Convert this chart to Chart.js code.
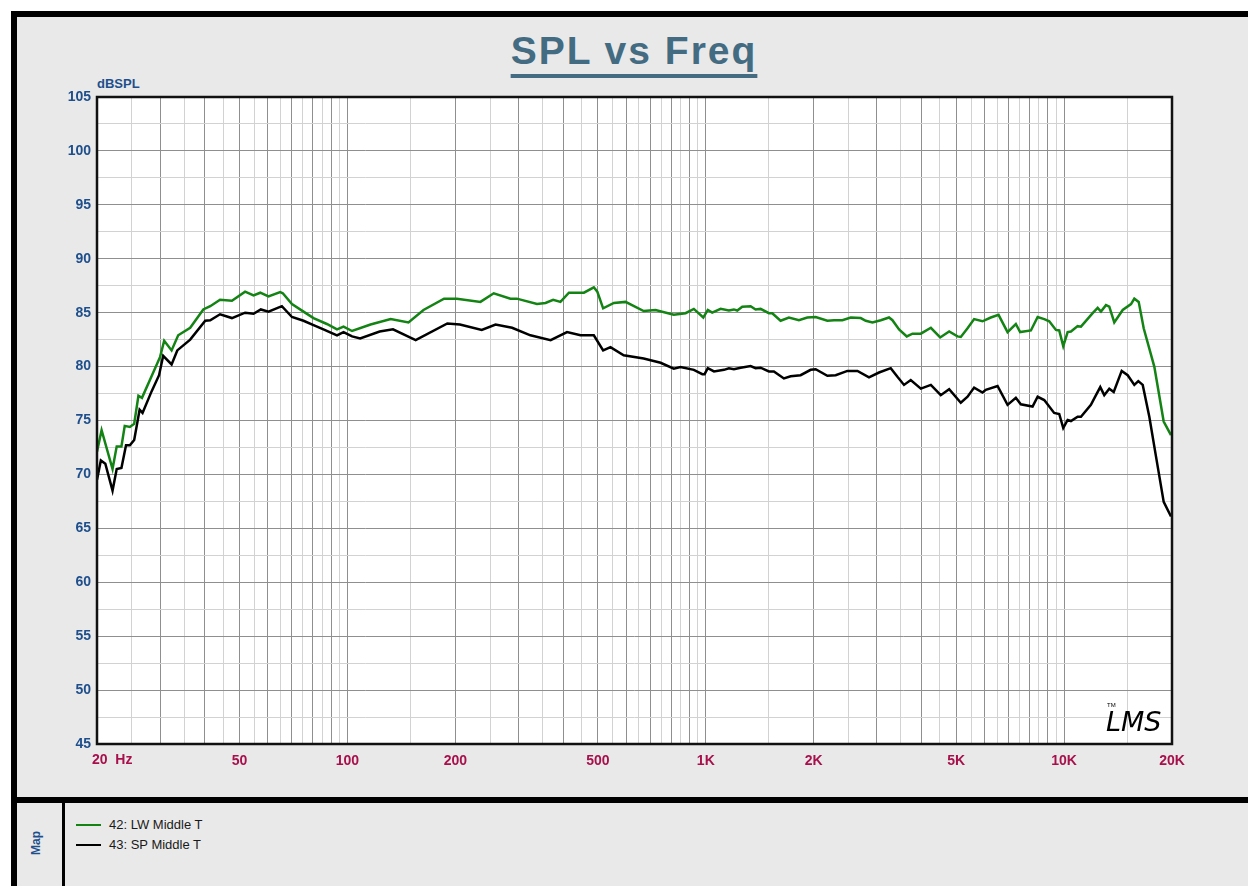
<!DOCTYPE html>
<html>
<head>
<meta charset="utf-8">
<title>SPL vs Freq</title>
<script src="https://cdn.jsdelivr.net/npm/chart.js@4.4.1/dist/chart.umd.min.js"></script>
<style>
  html, body { margin: 0; padding: 0; background: #fff; }
  body { width: 1248px; height: 886px; position: relative; overflow: hidden; font-family: "Liberation Sans", Arial, sans-serif; }
  .frame { position: absolute; left: 11px; top: 11px; right: 0; bottom: 0; background: #e9e9e9; border-left: 6px solid #000; border-top: 6px solid #000; }
  .hsplit { position: absolute; left: 11px; right: 0; top: 797px; height: 6px; background: #000; }
  .vsplit { position: absolute; left: 62px; top: 803px; width: 3px; bottom: 0; background: #000; }
  .title { position: absolute; left: 0; width: 1268px; top: 29px; text-align: center; font: bold 39px "Liberation Sans", Arial, sans-serif; letter-spacing: 2px; color: #436b82; text-decoration: underline; text-decoration-thickness: 4px; text-underline-offset: 10px; }
  .unit { position: absolute; left: 97px; top: 76px; font: bold 13px "Liberation Sans", Arial, sans-serif; color: #1e4f8c; }
  .map { position: absolute; left: 24px; top: 836px; font: bold 12px "Liberation Sans", Arial, sans-serif; color: #1e4f8c; transform: rotate(-90deg); transform-origin: center; }
  .legend { position: absolute; left: 76px; top: 815px; font: 13px "Liberation Sans", Arial, sans-serif; color: #1a1a1a; }
  .legend div { height: 20px; line-height: 16px; display: flex; align-items: center; }
  .legend span.sw { display: inline-block; width: 25px; height: 2px; margin-right: 8px; }
  canvas { position: absolute; left: 0; top: 0; }
</style>
</head>
<body>
<div class="frame"></div>
<div class="hsplit"></div>
<div class="vsplit"></div>
<div class="title">SPL vs Freq</div>
<div class="unit">dBSPL</div>
<div class="map">Map</div>
<div class="legend">
  <div><span class="sw" style="background:#138313"></span>42: LW Middle T</div>
  <div><span class="sw" style="background:#000"></span>43: SP Middle T</div>
</div>
<canvas id="splChart" width="1248" height="886"></canvas>
<script>
// Curve 42: LW Middle T (green)
const lwFreq = [20, 20.6, 22.1, 22.7, 23.4, 23.9, 24.7, 25.4, 26.1, 26.7, 28.4, 30, 30.8, 32.3, 33.7, 36.4, 39.6, 41.4, 44.1, 47.6,
  51.8, 54.7, 57.1, 60.2, 64.9, 66, 70, 75.4, 80.4, 87.6, 93.5, 97.5, 103, 116, 132, 148, 163, 186, 202, 235,
  256, 285, 297, 338, 357, 375, 393, 415, 457, 487, 498, 517, 554, 597, 671, 724, 814, 878, 926, 984,
  1013, 1042, 1100, 1160, 1198, 1224, 1264, 1334, 1377, 1422, 1500, 1533, 1617, 1706, 1819, 1920, 2026, 2184, 2280, 2405,
  2538, 2706, 2795, 2918, 3079, 3246, 3318, 3462, 3638, 3774, 3982, 4247, 4509, 4777, 5039, 5148, 5376, 5608, 5918, 6244,
  6561, 6952, 7332, 7538, 8077, 8435, 8800, 9088, 9487, 9690, 9943, 10228, 10448, 10908, 11142, 12012, 12406, 12670, 13084, 13366,
  13802, 14570, 15370, 15700, 16148, 16674, 17850, 18960, 19872];
const lwSpl = [72.1, 74.1, 70.5, 72.6, 72.6, 74.5, 74.4, 74.7, 77.3, 77.1, 79.1, 80.9, 82.4, 81.5, 82.9, 83.6, 85.3, 85.6, 86.2, 86.1,
  86.95, 86.6, 86.85, 86.5, 86.9, 86.8, 85.8, 85.1, 84.5, 83.95, 83.45, 83.7, 83.3, 83.9, 84.4, 84.1, 85.25, 86.3, 86.3, 86.0,
  86.8, 86.3, 86.3, 85.8, 85.9, 86.2, 86.0, 86.85, 86.85, 87.35, 86.95, 85.4, 85.9, 86.0, 85.15, 85.25, 84.8, 84.95, 85.35, 84.55,
  85.25, 85.0, 85.35, 85.2, 85.3, 85.2, 85.55, 85.6, 85.3, 85.35, 84.95, 84.95, 84.25, 84.55, 84.3, 84.55, 84.6, 84.25, 84.3, 84.3,
  84.55, 84.5, 84.25, 84.1, 84.3, 84.55, 84.3, 83.45, 82.8, 83.05, 83.05, 83.6, 82.7, 83.25, 82.8, 82.75, 83.55, 84.4, 84.2, 84.55,
  84.8, 83.2, 83.95, 83.2, 83.35, 84.6, 84.4, 84.2, 83.4, 83.35, 81.9, 83.2, 83.25, 83.75, 83.7, 84.95, 85.45, 85.1, 85.7, 85.55,
  84.1, 85.25, 85.8, 86.3, 86.0, 83.55, 80.0, 74.9, 73.65];

// Curve 43: SP Middle T (black)
const spFreq = [20, 20.5, 21.1, 22.1, 22.7, 23.4, 24.1, 24.7, 25.4, 26.3, 26.8, 28.4, 29.8, 30.6, 32.3, 33.5, 36.4, 40.1, 41.4, 44.1,
  47.6, 51.8, 54.7, 57.3, 60.2, 65.6, 70, 75.4, 80.4, 85.7, 93.5, 97.5, 103, 108.5, 123, 134, 155, 190, 206, 237,
  259, 288, 324, 369, 410, 447, 487, 517, 542, 590, 671, 748, 814, 850, 926, 978, 992, 1013, 1054, 1124,
  1160, 1198, 1251, 1334, 1377, 1422, 1500, 1549, 1652, 1725, 1839, 1962, 2026, 2184, 2304, 2484, 2650, 2854, 3044, 3282,
  3426, 3574, 3732, 3982, 4247, 4526, 4777, 5148, 5376, 5608, 5918, 6046, 6520, 6952, 7332, 7570, 8164, 8435, 8800, 9380,
  9690, 9943, 10228, 10448, 10908, 11142, 11878, 12270, 12614, 12942, 13366, 13752, 14476, 15044, 15700, 16106, 16570, 17288, 18048, 18960,
  19872];
const spSpl = [69.5, 71.3, 71.0, 68.5, 70.5, 70.6, 72.7, 72.7, 73.2, 76.0, 75.7, 77.7, 79.2, 81.0, 80.2, 81.5, 82.5, 84.25, 84.3, 84.85,
  84.5, 85.0, 84.9, 85.3, 85.1, 85.6, 84.6, 84.25, 83.85, 83.45, 82.9, 83.2, 82.8, 82.6, 83.25, 83.45, 82.45, 84.0, 83.9, 83.4,
  83.9, 83.6, 82.9, 82.45, 83.2, 82.9, 82.9, 81.5, 81.8, 81.05, 80.75, 80.35, 79.8, 79.95, 79.7, 79.3, 79.3, 79.85, 79.55, 79.7,
  79.85, 79.75, 79.9, 80.05, 79.85, 79.9, 79.55, 79.55, 78.9, 79.1, 79.2, 79.7, 79.75, 79.15, 79.2, 79.6, 79.6, 79.0, 79.45, 79.85,
  79.05, 78.3, 78.75, 77.95, 78.3, 77.35, 77.9, 76.65, 77.2, 78.05, 77.6, 77.85, 78.2, 76.45, 77.1, 76.5, 76.3, 77.2, 76.9, 75.7,
  75.6, 74.3, 75.05, 74.95, 75.35, 75.35, 76.45, 77.35, 78.1, 77.35, 77.95, 77.65, 79.6, 79.2, 78.3, 78.65, 78.3, 75.35, 71.65, 67.45,
  66.1];

// Frequency grid lines and the ones that carry a label
const xGridFreqs = [20, 25, 30, 35, 40, 45, 50, 55, 60, 65, 70, 75, 80, 85, 90, 95,
  100, 150, 200, 250, 300, 350, 400, 450, 500, 550, 600, 650, 700, 750, 800, 850, 900, 950,
  1000, 1500, 2000, 2500, 3000, 3500, 4000, 4500, 5000, 5500, 6000, 6500, 7000, 7500, 8000, 8500, 9000, 9500,
  10000, 15000, 20000];
const xTickLabels = { 50: "50", 100: "100", 200: "200", 500: "500", 1000: "1K", 2000: "2K", 5000: "5K", 10000: "10K", 20000: "20K" };
const firstXLabel = "20  Hz";
const yMin = 45, yMax = 105, yStep = 2.5;

const DARK_GRID = "#8f8f8f";
const LIGHT_GRID = "#d2d2d2";
const X_LABEL_COLOR = "#a8104c";

function isMajorFreq(v) {
  const m = v / Math.pow(10, Math.floor(Math.log10(v) + 1e-9));
  return Math.abs(m - Math.round(m)) < 1e-6;
}

const plotDecor = {
  id: "plotDecor",
  beforeDraw(chart) {
    const { ctx, chartArea: a } = chart;
    ctx.save();
    ctx.fillStyle = "#fff";
    ctx.fillRect(a.left, a.top, a.right - a.left, a.bottom - a.top);
    ctx.restore();
  },
  afterDraw(chart) {
    const { ctx, chartArea: a } = chart;
    ctx.save();
    ctx.strokeStyle = "#111";
    ctx.lineWidth = 2.5;
    ctx.strokeRect(a.left, a.top, a.right - a.left, a.bottom - a.top);

    // first frequency label sits a little right of the axis start
    ctx.fillStyle = X_LABEL_COLOR;
    ctx.font = 'bold 14px "Liberation Sans", Arial, sans-serif';
    ctx.textAlign = "left";
    ctx.textBaseline = "middle";
    ctx.fillText(firstXLabel, a.left - 5, a.bottom + 16);

    // LMS mark
    ctx.fillStyle = "#000";
    ctx.font = 'italic 27px "DejaVu Sans", sans-serif';
    ctx.textBaseline = "alphabetic";
    ctx.fillText("LMS", a.right - 66, a.bottom - 13);
    ctx.font = "6px sans-serif";
    ctx.fillText("TM", a.right - 65, a.bottom - 37);
    ctx.restore();
  }
};

const ctx = document.getElementById("splChart");
new Chart(ctx, {
  type: "line",
  data: {
    datasets: [
      {
        label: "42: LW Middle T",
        data: lwFreq.map((f, i) => ({ x: f, y: lwSpl[i] })),
        borderColor: "#138313",
        borderWidth: 2.5,
        pointRadius: 0,
        tension: 0,
        fill: false
      },
      {
        label: "43: SP Middle T",
        data: spFreq.map((f, i) => ({ x: f, y: spSpl[i] })),
        borderColor: "#000",
        borderWidth: 2.5,
        pointRadius: 0,
        tension: 0,
        fill: false
      }
    ]
  },
  options: {
    responsive: false,
    animation: false,
    devicePixelRatio: 1,
    layout: { padding: { left: 0, top: 97, right: 76, bottom: 112 } },
    plugins: {
      legend: { display: false },
      tooltip: { enabled: false },
      title: { display: false }
    },
    scales: {
      x: {
        type: "logarithmic",
        min: 20,
        max: 20000,
        border: { display: false },
        afterBuildTicks: s => { s.ticks = xGridFreqs.map(v => ({ value: v })); },
        afterFit: s => { s.height = 30; },
        grid: {
          drawTicks: false,
          color: c => (c.tick && isMajorFreq(c.tick.value) ? DARK_GRID : LIGHT_GRID),
          lineWidth: 1
        },
        ticks: {
          autoSkip: false,
          maxRotation: 0,
          padding: 9,
          color: X_LABEL_COLOR,
          font: { family: '"Liberation Sans", Arial, sans-serif', size: 14, weight: "bold" },
          callback: v => xTickLabels[v] || ""
        }
      },
      y: {
        min: yMin,
        max: yMax,
        border: { display: false },
        afterFit: s => { s.width = 97; },
        grid: {
          drawTicks: false,
          color: c => (c.tick && c.tick.value % 5 === 0 ? DARK_GRID : LIGHT_GRID),
          lineWidth: 1
        },
        ticks: {
          stepSize: yStep,
          autoSkip: false,
          padding: 6,
          color: "#1e4f8c",
          font: { family: '"Liberation Sans", Arial, sans-serif', size: 14, weight: "bold" },
          callback: v => (v % 5 === 0 ? v : "")
        }
      }
    }
  },
  plugins: [plotDecor]
});
</script>
</body>
</html>
